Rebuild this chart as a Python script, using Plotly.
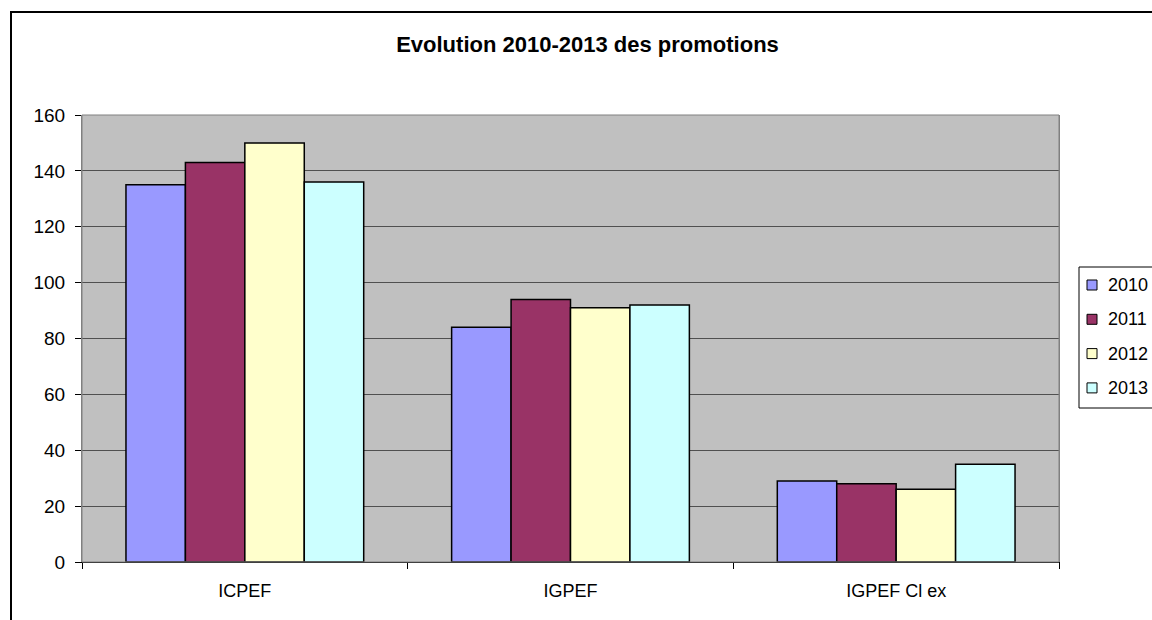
import plotly.graph_objects as go

categories = ["ICPEF", "IGPEF", "IGPEF Cl ex"]
years = ["2010", "2011", "2012", "2013"]
values_2010 = [135, 84, 29]
values_2011 = [143, 94, 28]
values_2012 = [150, 91, 26]
values_2013 = [136, 92, 35]
series = [values_2010, values_2011, values_2012, values_2013]
colors = ["#9999FF", "#993366", "#FFFFCC", "#CCFFFF"]
y_ticks = [0, 20, 40, 60, 80, 100, 120, 140, 160]

fig = go.Figure()
for name, vals, col in zip(years, series, colors):
    fig.add_trace(go.Bar(
        x=categories, y=vals, name=name, showlegend=False,
        marker=dict(color=col, line=dict(color="black", width=1.5)),
    ))

FONT = "Arial, Liberation Sans, sans-serif"
W, H = 1152, 620
L, R, T, B = 82, 93, 115, 58
PW, PH = W - L - R, H - T - B


def px(xf):
    return (xf - L) / PW


def py(yf):
    return (T + PH - yf) / PH


fig.update_layout(
    width=W, height=H,
    barmode="group", bargap=0.27, bargroupgap=0,
    paper_bgcolor="white", plot_bgcolor="#C0C0C0",
    margin=dict(l=L, r=R, t=T, b=B, autoexpand=False),
    font=dict(family=FONT, size=18, color="black"),
    title=dict(text="<b>Evolution 2010-2013 des promotions</b>",
               x=587.5 / W, xanchor="center", xref="container",
               y=1 - 44 / H, yanchor="middle", yref="container",
               font=dict(family=FONT, size=22, color="black")),
    showlegend=False,
    xaxis=dict(type="category", tickson="boundaries", ticks="outside",
               ticklen=6, tickcolor="black", showline=True, linecolor="black",
               linewidth=1, showgrid=False, tickfont=dict(size=18),
               mirror=False, ticklabelstandoff=12),
    yaxis=dict(range=[0, 160], tickvals=y_ticks, ticks="outside", ticklen=6,
               tickcolor="black", showline=True, linecolor="#808080",
               linewidth=1, showgrid=True, gridcolor="#505050", gridwidth=1,
               tickfont=dict(size=19), zeroline=False, mirror=True,
               ticklabelstandoff=6),
)
fig.add_shape(type="rect", xref="paper", yref="paper",
              x0=0, x1=1.0, y0=0, y1=1,
              line=dict(color="#808080", width=1), layer="above")
# outer chart border
fig.add_shape(type="rect", xref="paper", yref="paper",
              x0=px(11), x1=px(W + 20), y0=py(H + 20), y1=py(12),
              line=dict(color="black", width=2))
# legend (box, swatches, labels)
fig.add_shape(type="rect", xref="paper", yref="paper",
              x0=px(1079), x1=px(W + 20), y0=py(408), y1=py(267),
              line=dict(color="black", width=1), fillcolor="white")
for i, (name, col) in enumerate(zip(years, colors)):
    yc = 285 + 34.3 * i
    fig.add_shape(type="rect", xref="paper", yref="paper",
                  x0=px(1087), x1=px(1097), y0=py(yc + 5), y1=py(yc - 5),
                  line=dict(color="black", width=1), fillcolor=col)
    fig.add_annotation(text=name, xref="paper", yref="paper",
                       x=px(1106), y=py(yc), xanchor="left", yanchor="middle",
                       showarrow=False, font=dict(family=FONT, size=18,
                                                  color="black"))
fig.write_html("out.html",
               config={"displayModeBar": False},
               post_script="document.body.style.margin='0';"
                           "document.body.style.overflow='hidden';")
